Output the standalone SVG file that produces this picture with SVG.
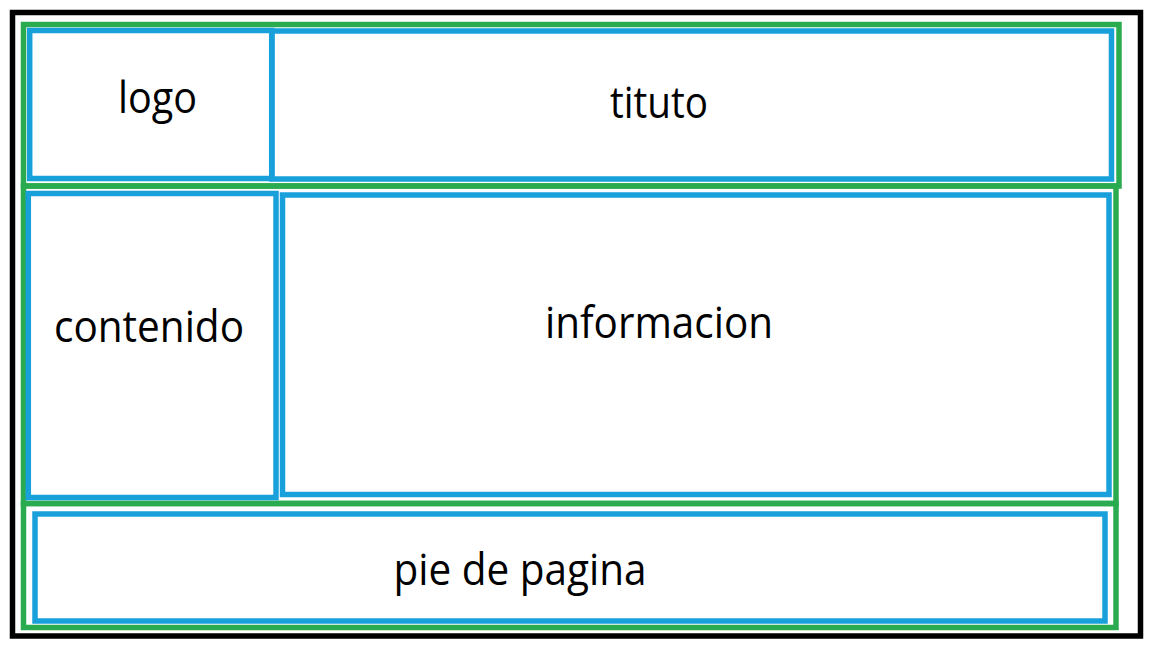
<svg xmlns="http://www.w3.org/2000/svg" width="1152" height="648" viewBox="0 0 1152 648">
<style>
.frame{fill:none;stroke:#000;stroke-width:5.5}
.sec{fill:none;stroke:#2BAB50;stroke-width:5.5}
.box{fill:none;stroke:#18A0DB;stroke-width:5.5}
.lbl{font-family:"Open Sans","Noto Sans","Liberation Sans",sans-serif;font-size:44px;fill:#000;text-anchor:middle}
</style>
<rect width="1152" height="648" fill="#fff"/>
<rect class="frame" x="12.5" y="12.5" width="1128" height="623.5"/>
<g id="sections">
<rect class="sec" x="23.5" y="24.5" width="1095.5" height="161.5"/>
<rect class="sec" x="23.5" y="186" width="1092.5" height="317.5"/>
<rect class="sec" x="23.5" y="503.5" width="1092.5" height="124"/>
</g>
<g id="logo">
<rect class="box" x="29.7" y="30.5" width="242" height="148"/>
<text class="lbl" x="157.5" y="113" textLength="79" lengthAdjust="spacingAndGlyphs">logo</text>
</g>
<g id="tituto">
<rect class="box" x="272" y="31" width="839.5" height="148"/>
<text class="lbl" x="659" y="118" textLength="98" lengthAdjust="spacingAndGlyphs">tituto</text>
</g>
<g id="contenido">
<rect class="box" x="28.3" y="193.5" width="247.7" height="304"/>
<text class="lbl" x="149" y="342" textLength="190" lengthAdjust="spacingAndGlyphs">contenido</text>
</g>
<g id="informacion">
<rect class="box" x="282.5" y="195" width="826.5" height="299.5"/>
<text class="lbl" x="659" y="338" textLength="228" lengthAdjust="spacingAndGlyphs">informacion</text>
</g>
<g id="pie">
<rect class="box" x="35" y="514" width="1070" height="107"/>
<text class="lbl" x="520" y="585" textLength="253" lengthAdjust="spacingAndGlyphs">pie de pagina</text>
</g>
<g id="connectors"/>
</svg>
